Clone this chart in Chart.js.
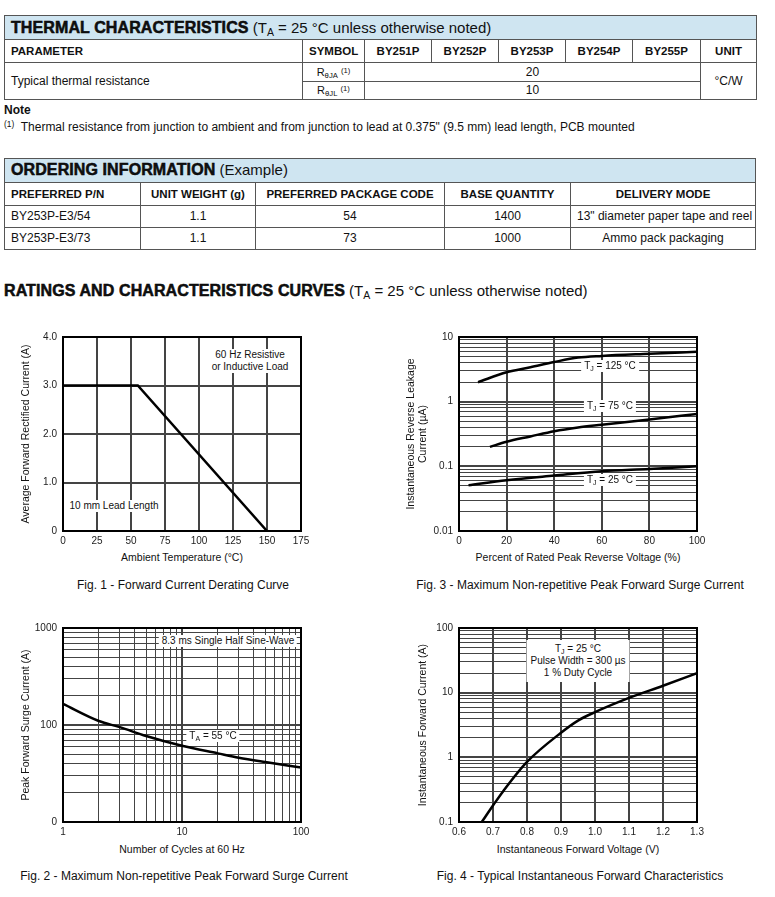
<!DOCTYPE html>
<html>
<head>
<meta charset="utf-8">
<script src="https://cdn.jsdelivr.net/npm/chart.js@4.4.1/dist/chart.umd.min.js"></script>
<style>
body{margin:0;width:775px;height:897px;position:relative;background:#fff;font-family:"Liberation Sans",Arial,sans-serif;color:#111;overflow:hidden}
table{position:absolute;border-collapse:collapse;table-layout:fixed}
td{border:1px solid #555;padding:0 6px;font-size:12px;white-space:nowrap;overflow:hidden;line-height:14px}
td.h{font-weight:bold;font-size:11.5px}
td.c{text-align:center}
td.title{background:#cfe5f1;font-size:15px}
.heavy{font-weight:bold;font-size:16px;-webkit-text-stroke:0.5px #000;letter-spacing:0.1px}
sub{font-size:0.7em;vertical-align:-0.3em;line-height:0}
sup{font-size:0.7em;vertical-align:0.45em;line-height:0}
.t{position:absolute;white-space:nowrap;transform:translate(-50%,-50%);line-height:12px}
.ax{font-size:10.5px;text-align:center}
.rot{transform:translate(-50%,-50%) rotate(-90deg)}
.cap{font-size:12px}
.note{font-size:10px;background:#fff;padding:0 3px;text-align:center}
canvas{position:absolute}
</style>
</head>
<body>

<table style="left:4px;top:15px;width:752px">
<colgroup><col style="width:298px"><col style="width:62px"><col style="width:67px"><col style="width:67px"><col style="width:67px"><col style="width:67px"><col style="width:68px"><col style="width:56px"></colgroup>
<tr style="height:24px"><td colspan="8" class="title"><span class="heavy">THERMAL CHARACTERISTICS</span> (T<sub>A</sub> = 25 °C unless otherwise noted)</td></tr>
<tr style="height:22.5px"><td class="h">PARAMETER</td><td class="h c">SYMBOL</td><td class="h c">BY251P</td><td class="h c">BY252P</td><td class="h c">BY253P</td><td class="h c">BY254P</td><td class="h c">BY255P</td><td class="h c">UNIT</td></tr>
<tr style="height:19px"><td rowspan="2">Typical thermal resistance</td><td class="c" style="font-size:11px">R<sub>θJA</sub> <sup>(1)</sup></td><td colspan="5" class="c">20</td><td rowspan="2" class="c">°C/W</td></tr>
<tr style="height:18.5px"><td class="c" style="font-size:11px">R<sub>θJL</sub> <sup>(1)</sup></td><td colspan="5" class="c">10</td></tr>
</table>

<div style="position:absolute;left:4px;top:103px;font-size:12px;font-weight:bold;line-height:14px">Note</div>
<div style="position:absolute;left:4px;top:120px;font-size:12px;line-height:14px"><sup>(1)</sup>&nbsp; Thermal resistance from junction to ambient and from junction to lead at 0.375" (9.5 mm) lead length, PCB mounted</div>

<table style="left:4px;top:158px;width:751px">
<colgroup><col style="width:136px"><col style="width:115px"><col style="width:189px"><col style="width:126px"><col style="width:185px"></colgroup>
<tr style="height:23.5px"><td colspan="5" class="title"><span class="heavy">ORDERING INFORMATION</span> (Example)</td></tr>
<tr style="height:23.5px"><td class="h">PREFERRED P/N</td><td class="h c">UNIT WEIGHT (g)</td><td class="h c">PREFERRED PACKAGE CODE</td><td class="h c">BASE QUANTITY</td><td class="h c">DELIVERY MODE</td></tr>
<tr style="height:21.5px"><td>BY253P-E3/54</td><td class="c">1.1</td><td class="c">54</td><td class="c">1400</td><td class="c">13" diameter paper tape and reel</td></tr>
<tr style="height:22.5px"><td>BY253P-E3/73</td><td class="c">1.1</td><td class="c">73</td><td class="c">1000</td><td class="c">Ammo pack packaging</td></tr>
</table>

<div style="position:absolute;left:4px;top:282px;font-size:15px;line-height:18px"><span class="heavy">RATINGS AND CHARACTERISTICS CURVES</span> (T<sub>A</sub> = 25 °C unless otherwise noted)</div>

<canvas id="fig1" width="320" height="230" style="left:0;top:320px"></canvas>
<canvas id="fig3" width="325" height="230" style="left:395px;top:320px"></canvas>
<canvas id="fig2" width="320" height="229" style="left:0;top:612px"></canvas>
<canvas id="fig4" width="325" height="229" style="left:395px;top:612px"></canvas>

<!-- fig 1 texts -->
<div class="t note" style="left:250px;top:361px">60 Hz Resistive<br>or Inductive Load</div>
<div class="t note" style="left:114px;top:506px">10 mm Lead Length</div>
<div class="t ax rot" style="left:25px;top:434px">Average Forward Rectified Current (A)</div>
<div class="t ax" style="left:182px;top:557px">Ambient Temperature (°C)</div>
<div class="t cap" style="left:183px;top:585px">Fig. 1 - Forward Current Derating Curve</div>

<!-- fig 3 texts -->
<div class="t note" style="left:610px;top:366px">T<sub>J</sub> = 125 °C</div>
<div class="t note" style="left:610px;top:406px">T<sub>J</sub> = 75 °C</div>
<div class="t note" style="left:610px;top:480px">T<sub>J</sub> = 25 °C</div>
<div class="t ax rot" style="left:416px;top:434px">Instantaneous Reverse Leakage<br>Current (µA)</div>
<div class="t ax" style="left:578px;top:557px">Percent of Rated Peak Reverse Voltage (%)</div>
<div class="t cap" style="left:580px;top:585px">Fig. 3 - Maximum Non-repetitive Peak Forward Surge Current</div>

<!-- fig 2 texts -->
<div class="t note" style="left:228px;top:641px">8.3 ms Single Half Sine-Wave</div>
<div class="t note" style="left:213px;top:736px">T<sub>A</sub> = 55 °C</div>
<div class="t ax rot" style="left:25px;top:725px">Peak Forward Surge Current (A)</div>
<div class="t ax" style="left:182px;top:849px">Number of Cycles at 60 Hz</div>
<div class="t cap" style="left:184px;top:876px">Fig. 2 - Maximum Non-repetitive Peak Forward Surge Current</div>

<!-- fig 4 texts -->
<div class="t note" style="left:578px;top:661px;padding:3px 4px">T<sub>J</sub> = 25 °C<br>Pulse Width = 300 µs<br>1 % Duty Cycle</div>
<div class="t ax rot" style="left:422px;top:725px">Instantaneous Forward Current (A)</div>
<div class="t ax" style="left:578px;top:849px">Instantaneous Forward Voltage (V)</div>
<div class="t cap" style="left:580px;top:876px">Fig. 4 - Typical Instantaneous Forward Characteristics</div>

<script>
// Fig. 1 - derating
const fig1Temp = [0, 55, 150];
const fig1Current = [3.0, 3.0, 0];
const fig1YLabels = ["0", "1.0", "2.0", "3.0", "4.0"];

// Fig. 2 - surge current vs cycles
const fig2Cycles = [1, 2, 3, 5, 10, 20, 30, 50, 100];
const fig2Surge = [165, 110, 95, 77, 61, 51, 46, 41.5, 36.5];
const fig2XLabels = { 1: "1", 10: "10", 100: "100" };
const fig2YLabels = { 10: "0", 100: "100", 1000: "1000" };

// Fig. 3 - reverse leakage
const fig3Pct125 = [8, 20, 30, 40, 50, 60, 80, 100];
const fig3Leak125 = [2.0, 2.85, 3.4, 4.1, 4.8, 5.1, 5.5, 5.9];
const fig3Pct75 = [13, 20, 30, 40, 50, 60, 80, 100];
const fig3Leak75 = [0.2, 0.24, 0.29, 0.35, 0.40, 0.44, 0.53, 0.645];
const fig3Pct25 = [4, 20, 40, 60, 80, 100];
const fig3Leak25 = [0.051, 0.061, 0.072, 0.084, 0.091, 0.10];
const fig3YLabels = { 0.01: "0.01", 0.1: "0.1", 1: "1", 10: "10" };

// Fig. 4 - forward characteristics
const fig4Volt = [0.667, 0.7, 0.73, 0.8, 0.9, 0.95, 1.0, 1.1, 1.2, 1.3];
const fig4Amp = [0.1, 0.18, 0.3, 0.85, 2.4, 3.7, 5.0, 8.3, 12.8, 20];
const fig4YLabels = { 0.1: "0.1", 1: "1", 10: "10", 100: "100" };

const FONT = { family: "'Liberation Sans', Arial, sans-serif", size: 10 };
const GRID = "#444";

const pts = (xs, ys) => xs.map((x, i) => ({ x, y: ys[i] }));
const isDecade = v => Math.abs(Math.log10(v) - Math.round(Math.log10(v))) < 1e-6;
const logLabel = map => v => {
    for (const k in map) if (Math.abs(k - v) / k < 1e-6) return map[k];
    return "";
};
// drop the 1.5 x 10^n ticks chart.js adds, keep 1..9 per decade
const keepWhole = s => {
    s.ticks = s.ticks.filter(t => {
        const m = t.value / Math.pow(10, Math.floor(Math.log10(t.value) + 1e-9));
        return Math.abs(m - Math.round(m)) < 1e-6;
    });
};

const frame = {
    id: "frame",
    afterDraw(c) {
        const a = c.chartArea, ctx = c.ctx;
        ctx.save();
        ctx.strokeStyle = "#000";
        ctx.lineWidth = 2;
        ctx.strokeRect(a.left, a.top, a.right - a.left, a.bottom - a.top);
        ctx.restore();
    }
};

function curve(data, smooth) {
    return {
        data, showLine: true, borderColor: "#000", borderWidth: 2.5, pointRadius: 0,
        tension: 0, cubicInterpolationMode: smooth ? "monotone" : "default", fill: false
    };
}

// axisW = width of y axis box, axisH = height of x axis box, padT / padR = space above / right of plot
function makeChart(id, datasets, xScale, yScale, axisW, axisH, padT, padR) {
    xScale.afterFit = s => { s.height = axisH; };
    yScale.afterFit = s => { s.width = axisW; };
    xScale.border = { display: false };
    yScale.border = { display: false };
    xScale.ticks = Object.assign({ font: FONT, color: "#222", padding: 4, autoSkip: false, maxRotation: 0, minRotation: 0 }, xScale.ticks);
    yScale.ticks = Object.assign({ font: FONT, color: "#222", padding: 6, autoSkip: false }, yScale.ticks);
    new Chart(document.getElementById(id), {
        type: "scatter",
        data: { datasets },
        options: {
            responsive: false, animation: false,
            layout: { padding: { top: padT, right: padR, left: 0, bottom: 0 } },
            plugins: { legend: { display: false }, tooltip: { enabled: false } },
            scales: { x: xScale, y: yScale }
        },
        plugins: [frame]
    });
}

const linGrid = { color: GRID, lineWidth: 2, drawTicks: false };
const logGrid = { color: GRID, lineWidth: c => (c.tick && isDecade(c.tick.value)) ? 2 : 1, drawTicks: false };

makeChart("fig1", [curve(pts(fig1Temp, fig1Current), false)],
    { type: "linear", min: 0, max: 175, grid: linGrid, ticks: { stepSize: 25 } },
    { type: "linear", min: 0, max: 4, grid: linGrid, ticks: { stepSize: 1, callback: v => fig1YLabels[v] } },
    63, 19, 17, 19);

makeChart("fig3", [
        curve(pts(fig3Pct125, fig3Leak125), true),
        curve(pts(fig3Pct75, fig3Leak75), true),
        curve(pts(fig3Pct25, fig3Leak25), true)
    ],
    { type: "linear", min: 0, max: 100, grid: linGrid, ticks: { stepSize: 20 } },
    { type: "logarithmic", min: 0.01, max: 10, grid: logGrid, afterBuildTicks: keepWhole, ticks: { callback: logLabel(fig3YLabels) } },
    64, 19, 17, 23);

makeChart("fig2", [curve(pts(fig2Cycles, fig2Surge), true)],
    { type: "logarithmic", min: 1, max: 100, grid: logGrid, afterBuildTicks: keepWhole, ticks: { callback: logLabel(fig2XLabels) } },
    { type: "logarithmic", min: 10, max: 1000, grid: logGrid, afterBuildTicks: keepWhole, ticks: { callback: logLabel(fig2YLabels) } },
    63, 19, 16, 19);

makeChart("fig4", [curve(pts(fig4Volt, fig4Amp), true)],
    { type: "linear", min: 0.6, max: 1.3, grid: linGrid, ticks: { stepSize: 0.1, callback: v => v.toFixed(1) } },
    { type: "logarithmic", min: 0.1, max: 100, grid: logGrid, afterBuildTicks: keepWhole, ticks: { callback: logLabel(fig4YLabels) } },
    64, 19, 16, 23);
</script>
</body>
</html>
